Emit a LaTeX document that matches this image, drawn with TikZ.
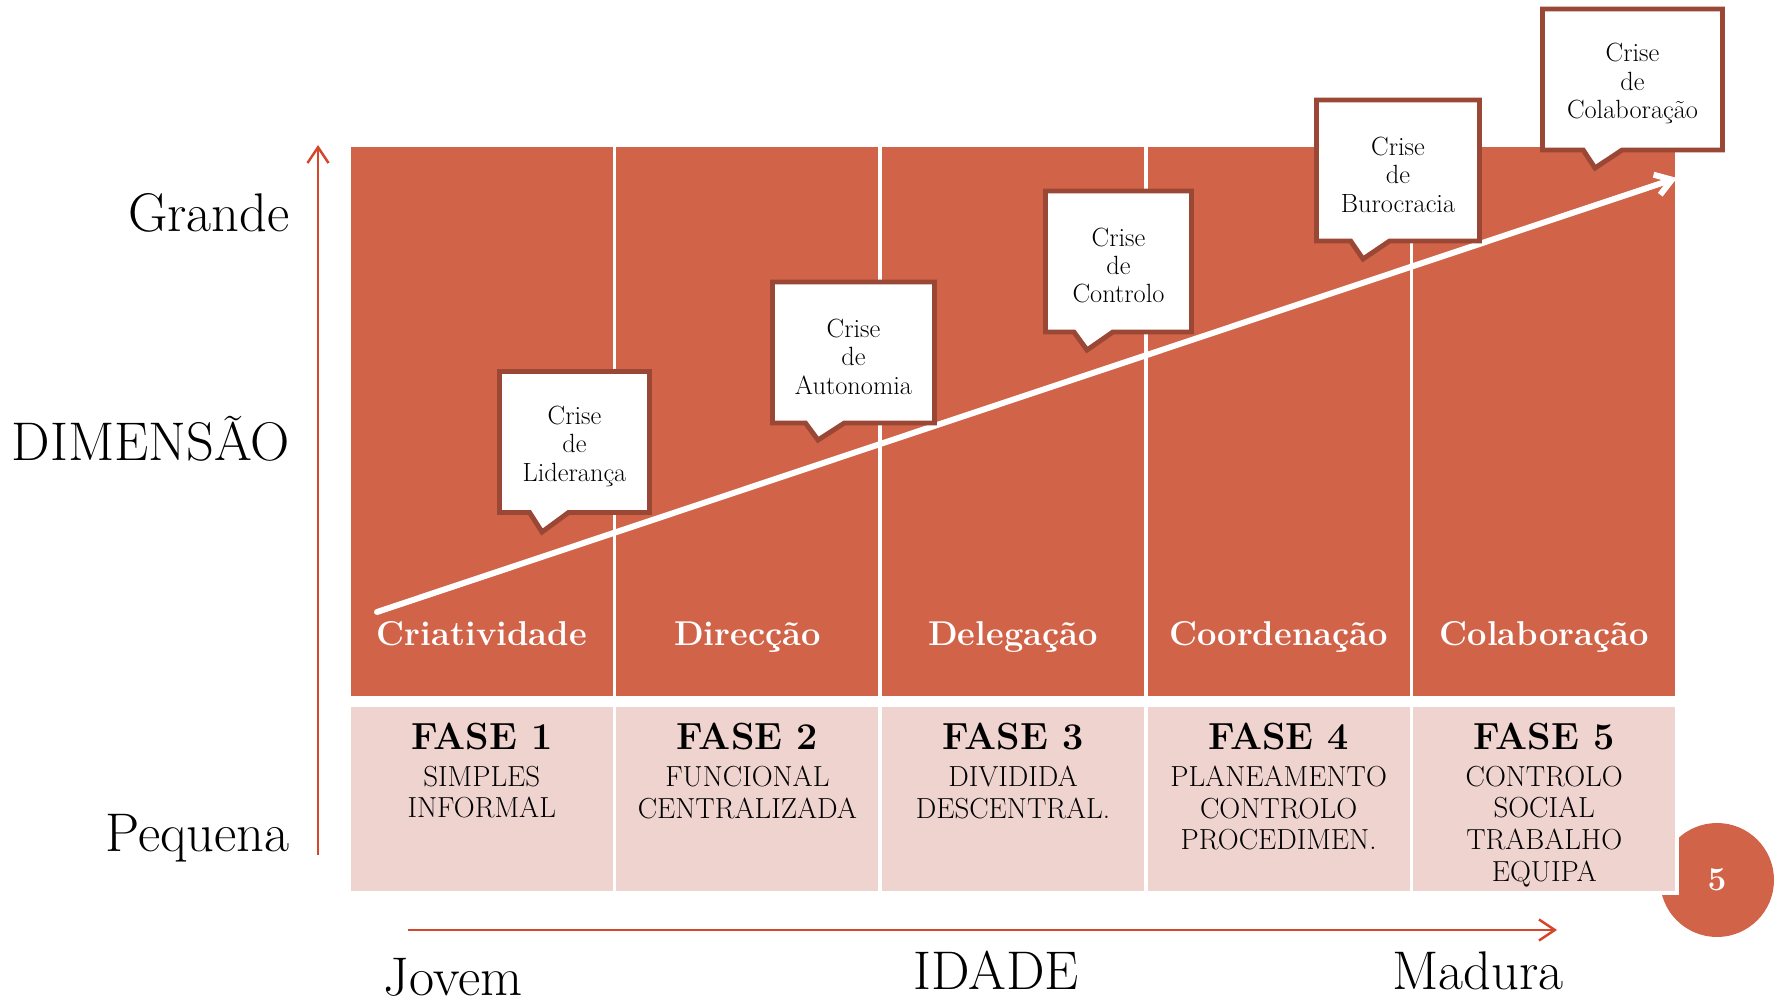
\documentclass[tikz,border=0pt]{standalone}
\usetikzlibrary{positioning,shapes.callouts,arrows.meta}
\definecolor{tijolo}{HTML}{D16349}
\definecolor{rosa}{HTML}{EFD3CF}
\definecolor{borda}{HTML}{9B4735}
\definecolor{seta}{HTML}{D5472B}
\newcommand{\crise}[1]{\rule{0pt}{15pt}Crise\\de\\#1}
\tikzset{
  topcell/.style={rectangle, fill=tijolo, draw=white, line width=2pt,
    minimum width=5.31cm, minimum height=11.06cm, inner sep=0pt},
  pinkcell/.style={rectangle, fill=rosa, draw=white, line width=2pt,
    minimum width=5.31cm, minimum height=3.76cm, inner sep=0pt},
  phase/.style={text=white, font=\fontsize{19.6}{22}\selectfont\bfseries, anchor=base},
  fase/.style={font=\fontsize{21.5}{24}\selectfont\bfseries, inner sep=0pt, anchor=base},
  info/.style={font=\fontsize{16.5}{18}\selectfont, align=center, inner sep=0pt},
  crise/.style={rectangle callout, fill=white, draw=borda, line width=2.8pt,
    minimum height=2.82cm, callout pointer width=0.78cm, align=center,
    font=\fontsize{15}{16.2}\selectfont},
  axis/.style={draw=seta, line width=1.4pt},
  axlabel/.style={font=\fontsize{31}{34}\selectfont, inner sep=0pt, anchor=base}
}
\begin{document}
\begin{tikzpicture}[x=0.02cm, y=-0.02cm,
    >={Straight Barb[length=9pt, width=12pt]}]
\useasboundingbox (0,0) rectangle (1775,1003);
% numero
\node [circle, fill=tijolo, minimum size=2.28cm, text=white,
       font=\fontsize{19}{22}\selectfont\bfseries] (num) at (1717,880) {5};
% colunas
\foreach \i in {1,...,5}{
  \node [topcell] (top\i) at ({349+265.6*(\i-0.5)},421.5) {};
  \node [pinkcell] (bot\i) at ({349+265.6*(\i-0.5)},799) {};
}
% linha de crescimento
\coordinate (ini) at (377,612);
\coordinate (fim) at (1677,178);
\draw [->, white, line width=3.4pt, line cap=round] (ini) -- (fim);
% fases
\foreach \i/\nome in {1/Criatividade, 2/Direcção, 3/Delegação, 4/Coordenação, 5/Colaboração}
  \node [phase] (ph\i) at ({349+265.6*(\i-0.5)},645) {\nome};
\foreach \i/\txt in {1/{SIMPLES\\INFORMAL}, 2/{FUNCIONAL\\CENTRALIZADA},
    3/{DIVIDIDA\\DESCENTRAL.}, 4/{PLANEAMENTO\\CONTROLO\\PROCEDIMEN.},
    5/{CONTROLO\\SOCIAL\\TRABALHO\\EQUIPA}}{
  \node [fase] (fase\i) at ({349+265.6*(\i-0.5)},749) {FASE \i};
  \node [info, below=9pt of fase\i] (info\i) {\txt};
}
% crises
\node [crise, minimum width=3.0cm, callout absolute pointer={(542,532)}] (c1) at (574.5,442) {\crise{Liderança}};
\node [crise, minimum width=3.24cm, callout absolute pointer={(818,440)}] (c2) at (853.5,352.5) {\crise{Autonomia}};
\node [crise, minimum width=2.92cm, callout absolute pointer={(1087,350)}] (c3) at (1118.5,261.5) {\crise{Controlo}};
\node [crise, minimum width=3.26cm, callout absolute pointer={(1363,259)}] (c4) at (1398,170.5) {\crise{Burocracia}};
\node [crise, minimum width=3.6cm, callout absolute pointer={(1595,168)}] (c5) at (1632.5,79.5) {\crise{Colaboração}};
% eixos
\coordinate (ybot) at (318,855);
\coordinate (ytop) at (318,145);
\draw [axis, ->] (ybot) -- (ytop);
\coordinate (xini) at (408,930);
\coordinate (xfim) at (1557,930);
\draw [axis, ->] (xini) -- (xfim);
\node [axlabel, anchor=base east] (grande) at (290,232) {Grande};
\node [axlabel, anchor=base east] (dim) at (290,460) {DIMENSÃO};
\node [axlabel, anchor=base east] (pequena) at (290,851) {Pequena};
\node [axlabel] (jovem) at (453,995) {Jovem};
\node [axlabel] (idade) at (996,989) {IDADE};
\node [axlabel] (madura) at (1478,989) {Madura};
\end{tikzpicture}
\end{document}
